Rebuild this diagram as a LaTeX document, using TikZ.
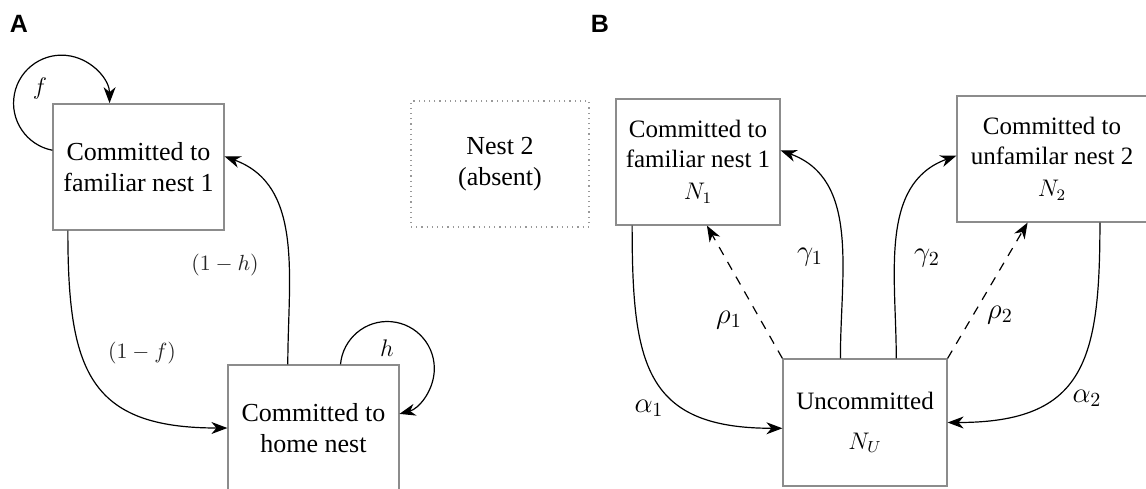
\documentclass[tikz,border=0pt]{standalone}
\usepackage[no-math]{fontspec}
\setmainfont{Liberation Serif}
\newfontfamily\panelfont{Liberation Sans}
\usetikzlibrary{arrows.meta,calc}

\begin{document}
\begin{tikzpicture}[
        x=0.5pt, y=-0.5pt,
        box/.style={
            draw=black!45,
            line width=0.6pt,
            inner sep=0pt,
            align=center,
            minimum height=63pt,
            font=\fontsize{13}{15.5}\selectfont
        },
        boxb/.style={box, font=\fontsize{12.5}{15}\selectfont},
        absent/.style={box, draw=black!40, dotted},
        arrow/.style={-{Stealth[length=8pt,width=6pt,inset=2.5pt]}, line width=0.6pt},
        rate/.style={font=\fontsize{12}{14}\selectfont},
        greek/.style={font=\fontsize{14}{16}\selectfont},
        ratesmall/.style={font=\fontsize{11}{13}\selectfont, text=black!85},
        panel/.style={font=\panelfont\bfseries\fontsize{12.5}{14}\selectfont}
    ]

    \useasboundingbox (0,0) rectangle (1146,488);

    % Panel A
    \node[panel] (pa) at (19,24) {A};
    \node[box, minimum width=85.5pt] (fam) at (138.5,167) {Committed to\\familiar nest 1};
    \node[box, minimum width=85.5pt] (home) at (313.5,428) {Committed to\\home nest};
    \node[absent, minimum width=89pt] (nest2) at (500,164) {Nest 2\\(absent)};

    \draw[arrow] (fam.169) arc[start angle=259, end angle=0, radius=24pt];
    \draw[arrow] (home.67) arc[start angle=175, end angle=-75, radius=23.5pt];
    \draw[arrow] (fam.222) to[out=-90, in=180, looseness=1.4] (home.west);
    \draw[arrow] (home.112) to[out=90, in=-20] (fam.7);

    \node[rate] (lf) at (40,88) {$f$};
    \node[rate] (lh) at (387,348) {$h$};
    \node[ratesmall] (lnf) at (142,353) {$(1-f)$};
    \node[ratesmall] (lnh) at (225,265) {$(1-h)$};

    % Panel B
    \node[panel] (pb) at (600,24) {B};
    \node[boxb, minimum width=82pt] (n1) at (698,162)
        {Committed to\\familiar nest 1\\[1pt]{\fontsize{12}{13}\selectfont$N_1$}};
    \node[boxb, minimum width=95pt] (n2) at (1052,159)
        {Committed to\\unfamilar nest 2\\[1pt]{\fontsize{12}{13}\selectfont$N_2$}};
    \node[boxb, minimum width=82pt, minimum height=63.5pt] (u) at (865,422.5)
        {Uncommitted\\[5pt]{\fontsize{12}{13}\selectfont$N_U$}};

    \draw[arrow] (n1.224) to[out=-90, in=180, looseness=1.4] (u.184);
    \draw[arrow] (n2.-53) to[out=-90, in=0, looseness=1.4] (u.east);
    \draw[arrow] (u.111) to[out=90, in=-20] (n1.8);
    \draw[arrow] (u.64) to[out=90, in=200] (n2.178);
    \draw[arrow, dash pattern=on 4.5pt off 4pt] (u.north west) -- (n1.-82);
    \draw[arrow, dash pattern=on 4.5pt off 4pt] (u.north east) -- (n2.249);

    \node[greek] (la1) at (649,408) {$\alpha_1$};
    \node[greek] (la2) at (1087,398) {$\alpha_2$};
    \node[greek] (lg1) at (810,257) {$\gamma_1$};
    \node[greek] (lg2) at (927,258) {$\gamma_2$};
    \node[greek] (lr1) at (729,320) {$\rho_1$};
    \node[greek] (lr2) at (1000,315) {$\rho_2$};

\end{tikzpicture}
\end{document}
